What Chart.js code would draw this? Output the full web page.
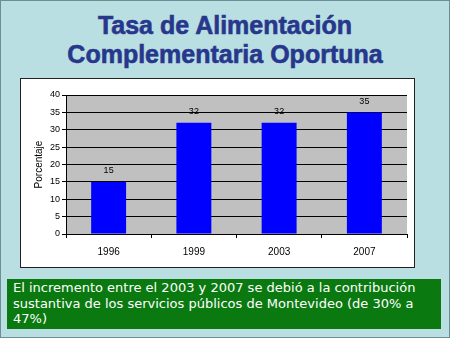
<!DOCTYPE html>
<html>
<head>
<meta charset="utf-8">
<script src="https://cdn.jsdelivr.net/npm/chart.js@4.4.0/dist/chart.umd.min.js"></script>
<style>
  html, body { margin: 0; padding: 0; }
  body { width: 450px; height: 338px; overflow: hidden; }
  #slide {
    position: relative; width: 448px; height: 336px;
    background: #badfe2; border: 1px solid #6b8f94;
  }
  #title {
    position: absolute; left: 0; top: 10px; width: 448px;
    text-align: center; font-family: "Liberation Sans", Arial, sans-serif;
    font-weight: bold; font-size: 25px; line-height: 29px; color: #27378c;
    -webkit-text-stroke: 0.6px #27378c;
  }
  #chartBox {
    position: absolute; left: 19px; top: 77px; width: 393px; height: 188px;
    background: #fff; border: 1px solid #222;
  }
  #note {
    position: absolute; left: 6px; top: 278px; width: 428px; height: 49px;
    background: #0a7a10; color: #fff; padding: 1px 0 0 6px;
    font-family: "DejaVu Sans", Verdana, sans-serif; font-size: 13px; line-height: 15.5px;
  }
</style>
</head>
<body>
<div id="slide">
  <div id="title">Tasa de Alimentación<br>Complementaria Oportuna</div>
  <div id="chartBox"><canvas id="ChartTasa" width="393" height="188"></canvas></div>
  <div id="note">El incremento entre el 2003 y 2007 se debió a la contribución sustantiva de los servicios públicos de Montevideo (de 30% a 47%)</div>
</div>
<script>
var years = ["1996", "1999", "2003", "2007"];
var tasa = [15, 32, 32, 35];
var yTicks = [0, 5, 10, 15, 20, 25, 30, 35, 40];

// gray plot background
var plotBackground = {
    id: 'plotBackground',
    beforeDraw: function (chart) {
        var a = chart.chartArea, ctx = chart.ctx;
        ctx.save();
        ctx.fillStyle = '#c0c0c0';
        ctx.fillRect(a.left, a.top, a.right - a.left, a.bottom - a.top);
        ctx.restore();
    }
};

// value above each bar
var valueLabels = {
    id: 'valueLabels',
    afterDatasetsDraw: function (chart) {
        var ctx = chart.ctx;
        var meta = chart.getDatasetMeta(0);
        ctx.save();
        ctx.fillStyle = '#000';
        ctx.font = '9px "Liberation Sans", Arial, sans-serif';
        ctx.textAlign = 'center';
        ctx.textBaseline = 'middle';
        meta.data.forEach(function (bar, i) {
            ctx.fillText(String(tasa[i]), bar.x, bar.y - 11);
        });
        ctx.restore();
    }
};

var ctx = document.getElementById('ChartTasa').getContext('2d');

var graph = new Chart(ctx, {
    type: 'bar',
    data: {
        labels: years,
        datasets: [
            {
                label: "Porcentaje",
                backgroundColor: '#0000ff',
                borderWidth: 0,
                data: tasa,
                categoryPercentage: 1,
                barPercentage: 0.41
            }
        ]
    },
    options: {
        responsive: false,
        animation: false,
        layout: { padding: { top: 16, right: 7, left: 0, bottom: 0 } },
        plugins: {
            legend: { display: false },
            tooltip: { enabled: false }
        },
        scales: {
            x: {
                offset: true,
                grid: {
                    offset: true,
                    drawOnChartArea: false,
                    drawTicks: true,
                    tickLength: 4,
                    color: '#000'
                },
                border: { color: '#000', width: 1 },
                ticks: {
                    color: '#000',
                    padding: 8,
                    font: { family: '"Liberation Sans", Arial, sans-serif', size: 10 }
                },
                afterFit: function (scale) { scale.height = 33; }
            },
            y: {
                min: 0,
                max: 40,
                afterBuildTicks: function (scale) {
                    scale.ticks = yTicks.map(function (v) { return { value: v }; });
                },
                grid: {
                    color: '#000',
                    lineWidth: 1,
                    drawTicks: true,
                    tickLength: 4
                },
                border: { color: '#000', width: 1 },
                ticks: {
                    color: '#000',
                    padding: 2,
                    font: { family: '"Liberation Sans", Arial, sans-serif', size: 9 }
                },
                title: {
                    display: true,
                    text: 'Porcentaje',
                    color: '#000',
                    padding: { top: 12, bottom: 2 },
                    font: { family: '"Liberation Sans", Arial, sans-serif', size: 10 }
                },
                afterFit: function (scale) { scale.width = 45; }
            }
        }
    },
    plugins: [plotBackground, valueLabels]
});
</script>
</body>
</html>
